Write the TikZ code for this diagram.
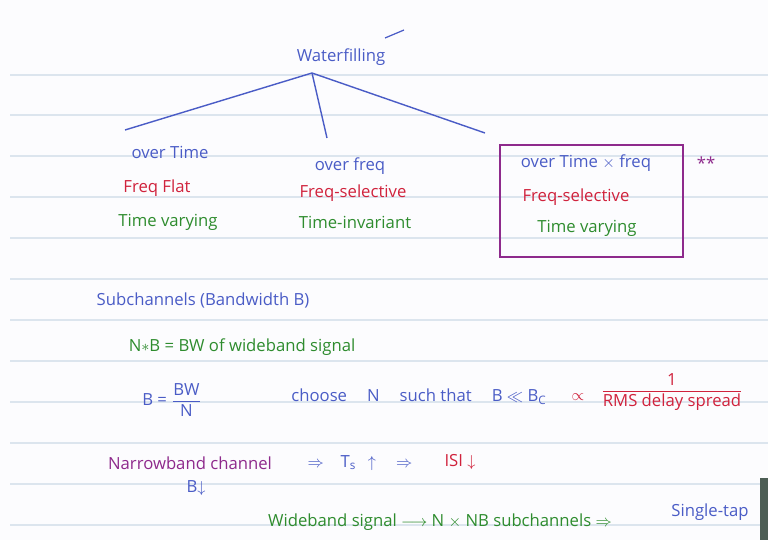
\documentclass[tikz,border=0pt]{standalone}
\usepackage{amsmath}
\usepackage{amssymb}
\usepackage{fontspec}
\setmainfont{Open Sans}
\usetikzlibrary{positioning}
\definecolor{paper}{HTML}{FCFCFE}
\definecolor{rulecol}{HTML}{DCE5EE}
\definecolor{penblue}{HTML}{4A5CC6}
\definecolor{penred}{HTML}{D0223C}
\definecolor{pengreen}{HTML}{2E8C2E}
\definecolor{penpurple}{HTML}{8E2A8C}
\definecolor{screen}{HTML}{4D5E55}
\tikzset{
  note/.style={font=\fontsize{9.5}{11}\selectfont, inner sep=1pt},
  branch/.style={penblue, line width=0.8pt},
}

\begin{document}
\begin{tikzpicture}[x=0.02cm, y=-0.02cm]
				% page and ruled lines
				\fill[paper] (0,0) rectangle (768,540);
				\useasboundingbox (0,0) rectangle (768,540);
				\foreach \ry in {75,115,156,197,238,279,320,361,402,443,484,525}
					\draw[rulecol, line width=0.6pt] (10,\ry) -- (768,\ry);
				\fill[screen] (760,478) rectangle (768,540);
				
				% root and the three cases
				\node[note, text=penblue] (wf) at (341,57) {Waterfilling};
				\draw[penblue, line width=0.7pt] (385,38) -- (404,30);
				\coordinate (root) at (312,73);
				\coordinate (e1) at (125,130);
				\coordinate (e2) at (327,138);
				\coordinate (e3) at (485,133);
				\draw[branch] (root) -- (e1);
				\draw[branch] (root) -- (e2);
				\draw[branch] (root) -- (e3);
				
				\node[note, text=penblue] (time) at (170,152) {over Time};
				\node[note, text=penblue] (freq) at (350,166) {over freq};
				\node[note, text=penblue] (both) at (586,163) {over Time $\times$ freq};
				
				\node[note, text=penred] (flat) at (157,188) {Freq Flat};
				\node[note, text=penred] (sel) at (353,193) {Freq-selective};
				\node[note, text=penred] (selb) at (576,197) {Freq-selective};
				
				\node[note, text=pengreen] (var) at (168,222) {Time varying};
				\node[note, text=pengreen] (inv) at (355,222) {Time-invariant};
				\node[note, text=pengreen] (varb) at (587,228) {Time varying};
				
				% box round the joint case
				\draw[penpurple, line width=0.8pt] (500,145) rectangle (683,257);
				\node[note, text=penpurple] (stars) at (706,163) {**};
				
				% subchannels
				\node[note, text=penblue] (sub) at (203,300) {Subchannels (Bandwidth B)};
				\node[note, text=pengreen] (nb) at (242,347) {N$*$B = BW of wideband signal};
				\node[note, text=penblue] (bfrac) at (172,400) {B = $\dfrac{\text{BW}}{\text{N}}$};
				\node[note, text=penblue] (choose) at (419,397) {choose\hspace{1.2em}N\hspace{1.2em}such that\hspace{1.2em}B $\ll$ B$_\text{C}$};
				\node[note, text=penred] (prop) at (578,397) {$\propto$};
				\node[note, text=penred] (rms) at (672,392) {$\dfrac{\text{1}}{\text{RMS delay spread}}$};
				
				% narrowband
				\node[note, text=penpurple] (nbc) at (190,463) {Narrowband channel};
				\node[note, text=penblue] (ts) at (360,463) {$\Rightarrow$\hspace{1em}T$_\text{s}$\hspace{0.7em}$\uparrow$\hspace{1.2em}$\Rightarrow$};
				\node[note, text=penred] (isi) at (460,462) {ISI $\downarrow$};
				\node[note, text=penblue] (bdown) at (196,488) {B$\downarrow$};
				\node[note, text=pengreen] (wb) at (440,522) {Wideband signal $\longrightarrow$ N $\times$ NB subchannels $\Rightarrow$};
				\node[note, text=penblue] (tap) at (710,512) {Single-tap};
				
\end{tikzpicture}
\end{document}
